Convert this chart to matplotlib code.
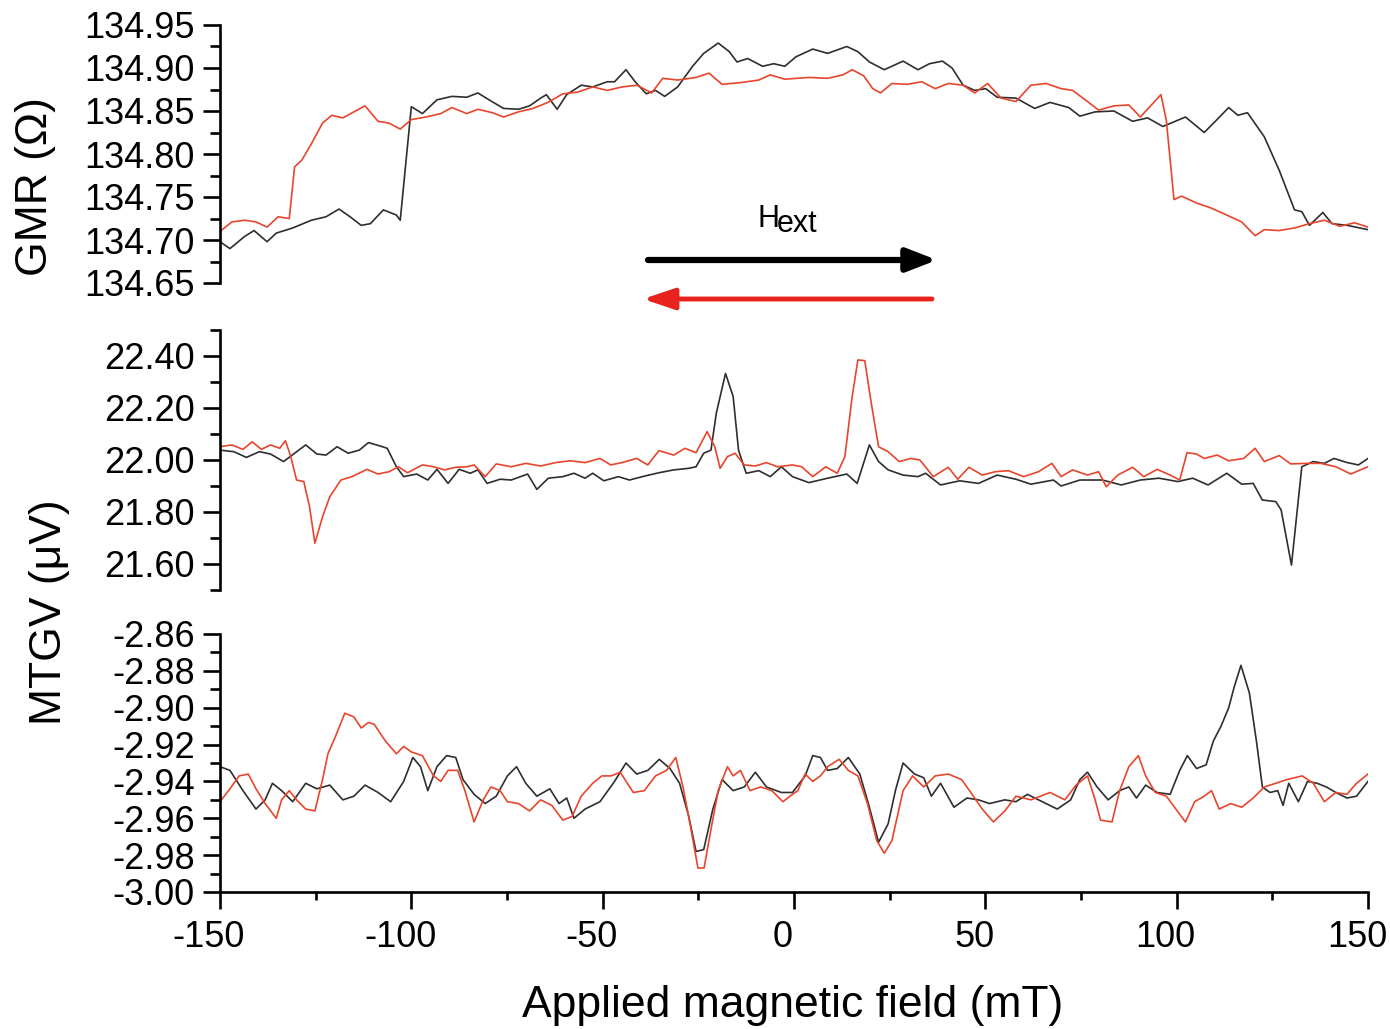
"""plot.py

GMR and MTGV versus applied field, up sweep (black) and down sweep (red),
three stacked panels sharing the field axis.
"""

import matplotlib
matplotlib.use('Agg')
import matplotlib.pyplot as plt
from matplotlib.ticker import MultipleLocator, FormatStrFormatter
from matplotlib.transforms import ScaledTranslation

plt.rcParams['font.family'] = 'Liberation Sans'
plt.rcParams['axes.unicode_minus'] = False

BLACK = '#2e2e2e'
RED = '#e8452c'

# ---- GMR (Ohm), sweep up
gmr_up_field = [
    -150.0, -147.4, -143.6, -141.1, -137.7, -135.3, -131.0, -126.1, -122.3, -118.9,
    -116.0, -113.1, -110.7, -107.3, -103.9, -102.9, -100.0, -97.1, -93.3, -89.4,
    -85.5, -82.6, -79.7, -75.9, -72.0, -69.1, -66.2, -64.7, -61.9, -59.4,
    -55.6, -52.6, -48.8, -46.9, -43.9, -41.5, -38.6, -36.2, -33.8, -30.4,
    -26.5, -23.6, -19.8, -16.9, -14.9, -12.1, -8.2, -5.3, -2.4, 0.5,
    4.9, 8.8, 13.8, 16.7, 19.7, 23.6, 28.5, 32.4, 35.4, 38.8,
    41.3, 44.2, 47.2, 50.1, 53.1, 58.0, 62.9, 66.9, 71.8, 74.7,
    78.7, 83.6, 88.5, 92.4, 96.4, 102.3, 107.2, 110.1, 113.6, 116.0,
    118.5, 122.9, 126.8, 130.8, 132.7, 134.7, 138.2, 140.6, 144.6, 150.0]
gmr_up = [
    134.698, 134.690, 134.704, 134.711, 134.698, 134.708, 134.714, 134.723, 134.727, 134.736,
    134.727, 134.717, 134.719, 134.735, 134.729, 134.723, 134.855, 134.847, 134.863, 134.867,
    134.866, 134.871, 134.863, 134.853, 134.852, 134.856, 134.865, 134.869, 134.852, 134.869,
    134.880, 134.878, 134.884, 134.884, 134.898, 134.884, 134.870, 134.874, 134.867, 134.878,
    134.902, 134.917, 134.929, 134.919, 134.907, 134.911, 134.902, 134.905, 134.902, 134.913,
    134.922, 134.917, 134.925, 134.919, 134.907, 134.898, 134.908, 134.898, 134.905, 134.908,
    134.900, 134.880, 134.874, 134.876, 134.866, 134.865, 134.853, 134.860, 134.854, 134.844,
    134.849, 134.850, 134.838, 134.842, 134.832, 134.843, 134.825, 134.838, 134.854, 134.845,
    134.848, 134.820, 134.781, 134.735, 134.733, 134.717, 134.732, 134.719, 134.717, 134.712]

# ---- GMR (Ohm), sweep down
gmr_down_field = [
    -150.0, -146.9, -143.5, -140.6, -137.7, -134.8, -131.9, -130.5, -128.6, -126.1,
    -123.2, -120.8, -117.9, -115.0, -112.1, -108.7, -105.9, -102.9, -100.0, -96.2,
    -92.3, -89.4, -85.5, -82.6, -78.8, -75.9, -72.0, -68.2, -64.3, -60.4,
    -56.5, -52.6, -48.8, -44.9, -41.0, -37.2, -34.3, -30.4, -25.6, -22.2,
    -18.8, -14.0, -9.2, -6.2, -2.4, 3.9, 8.8, 12.8, 15.2, 18.2,
    20.6, 22.6, 25.6, 29.5, 33.4, 36.9, 40.3, 44.2, 47.2, 50.6,
    54.1, 58.0, 61.9, 65.9, 69.8, 72.8, 76.7, 79.6, 83.6, 87.5,
    90.5, 93.4, 95.9, 97.3, 99.3, 101.3, 105.2, 109.1, 113.1, 117.0,
    120.5, 122.9, 126.8, 130.8, 134.7, 138.6, 142.6, 146.5, 150.0]
gmr_down = [
    134.710, 134.721, 134.723, 134.721, 134.715, 134.727, 134.725, 134.785, 134.793, 134.812,
    134.836, 134.845, 134.842, 134.849, 134.856, 134.838, 134.836, 134.829, 134.840, 134.843,
    134.847, 134.854, 134.847, 134.852, 134.848, 134.843, 134.849, 134.853, 134.860, 134.870,
    134.872, 134.878, 134.874, 134.878, 134.880, 134.871, 134.888, 134.886, 134.889, 134.894,
    134.881, 134.883, 134.886, 134.892, 134.887, 134.889, 134.888, 134.892, 134.898, 134.891,
    134.876, 134.871, 134.882, 134.881, 134.884, 134.876, 134.882, 134.880, 134.871, 134.882,
    134.865, 134.861, 134.880, 134.882, 134.876, 134.874, 134.861, 134.851, 134.856, 134.857,
    134.843, 134.857, 134.869, 134.839, 134.747, 134.751, 134.743, 134.737, 134.729, 134.721,
    134.705, 134.712, 134.711, 134.714, 134.719, 134.723, 134.716, 134.720, 134.715]

# ---- MTGV (uV), first channel, sweep up
mid_up_field = [
    -150.0, -146.4, -143.1, -139.7, -136.8, -133.4, -130.5, -127.6, -124.7, -122.3,
    -119.4, -116.5, -113.6, -111.2, -108.2, -106.3, -103.9, -102.0, -98.6, -95.7,
    -93.3, -90.4, -87.5, -84.6, -82.6, -80.2, -76.8, -73.9, -69.6, -67.2,
    -64.2, -60.4, -57.5, -54.6, -52.6, -49.7, -45.9, -43.0, -39.1, -35.3,
    -31.4, -27.5, -25.6, -23.6, -21.7, -20.3, -17.9, -15.9, -14.5, -12.5,
    -9.2, -6.2, -3.3, -0.4, 3.9, 8.8, 13.8, 16.5, 19.7, 22.1,
    24.6, 28.5, 32.4, 34.4, 38.3, 43.3, 48.2, 53.1, 58.0, 61.9,
    67.8, 69.8, 74.7, 80.6, 85.5, 90.5, 95.4, 100.3, 104.2, 108.2,
    113.1, 117.0, 120.0, 122.4, 125.9, 127.3, 130.0, 132.7, 135.7, 138.6,
    141.1, 144.6, 147.5, 150.0]
mid_up = [
    22.038, 22.032, 22.010, 22.032, 22.023, 21.994, 22.026, 22.058, 22.023, 22.019,
    22.051, 22.026, 22.038, 22.067, 22.054, 22.045, 21.974, 21.936, 21.946, 21.923,
    21.964, 21.910, 21.964, 21.949, 21.962, 21.910, 21.926, 21.923, 21.946, 21.887,
    21.930, 21.936, 21.949, 21.930, 21.949, 21.920, 21.936, 21.923, 21.938, 21.951,
    21.962, 21.968, 21.974, 22.026, 22.038, 22.180, 22.333, 22.244, 22.038, 21.949,
    21.959, 21.936, 21.974, 21.936, 21.913, 21.930, 21.946, 21.910, 22.058, 21.994,
    21.962, 21.942, 21.936, 21.949, 21.904, 21.920, 21.910, 21.942, 21.926, 21.907,
    21.923, 21.900, 21.923, 21.923, 21.904, 21.923, 21.930, 21.917, 21.930, 21.904,
    21.949, 21.907, 21.910, 21.846, 21.840, 21.808, 21.596, 21.974, 21.994, 21.987,
    22.006, 21.990, 21.981, 22.006]

# ---- MTGV (uV), first channel, sweep down
mid_down_field = [
    -150.0, -146.9, -144.0, -141.6, -139.2, -136.8, -134.4, -132.9, -131.5, -130.0,
    -128.1, -126.6, -125.2, -123.2, -121.3, -118.4, -115.5, -111.6, -108.7, -105.8,
    -103.4, -101.0, -97.1, -94.2, -91.3, -88.4, -85.5, -83.6, -80.7, -77.8,
    -73.9, -70.1, -66.2, -62.3, -58.5, -54.6, -50.7, -47.9, -45.0, -41.1,
    -38.2, -35.3, -31.4, -28.5, -25.6, -22.7, -20.7, -19.3, -17.4, -15.4,
    -13.0, -10.1, -7.2, -4.3, -0.4, 2.0, 4.9, 8.3, 11.3, 13.3,
    15.2, 16.7, 18.5, 20.2, 22.1, 24.6, 27.5, 30.5, 32.9, 36.4,
    40.3, 42.8, 45.7, 49.2, 52.6, 56.0, 60.0, 63.9, 67.4, 69.8,
    72.8, 76.7, 79.6, 81.6, 84.6, 88.5, 91.4, 94.9, 98.3, 100.8,
    102.7, 105.2, 107.2, 110.6, 113.6, 117.5, 120.5, 122.9, 126.8, 129.8,
    133.7, 137.7, 141.6, 145.5, 148.0, 150.0]
mid_down = [
    22.051, 22.058, 22.041, 22.070, 22.041, 22.058, 22.045, 22.074, 22.013, 21.923,
    21.917, 21.820, 21.680, 21.782, 21.859, 21.923, 21.936, 21.964, 21.946, 21.955,
    21.974, 21.951, 21.981, 21.974, 21.962, 21.972, 21.974, 21.981, 21.936, 21.985,
    21.974, 21.987, 21.977, 21.990, 21.997, 21.990, 22.006, 21.981, 21.990, 22.006,
    21.981, 22.036, 22.019, 22.045, 22.028, 22.109, 22.051, 21.968, 22.013, 22.026,
    21.981, 21.977, 21.990, 21.974, 21.981, 21.974, 21.936, 21.974, 21.949, 22.013,
    22.244, 22.385, 22.382, 22.218, 22.051, 22.032, 21.994, 22.006, 22.000, 21.936,
    21.972, 21.926, 21.972, 21.942, 21.955, 21.959, 21.936, 21.955, 21.987, 21.936,
    21.962, 21.942, 21.955, 21.897, 21.942, 21.972, 21.936, 21.964, 21.942, 21.923,
    22.028, 22.023, 22.006, 22.019, 21.997, 22.006, 22.045, 21.994, 22.017, 21.985,
    21.987, 21.987, 21.974, 21.946, 21.962, 21.974]

# ---- MTGV (uV), second channel, sweep up
low_up_field = [
    -150.0, -147.4, -144.0, -140.6, -138.2, -136.3, -133.9, -131.0, -127.6, -124.7,
    -121.3, -117.9, -115.0, -112.1, -108.7, -105.4, -102.0, -99.6, -97.6, -95.7,
    -93.3, -90.8, -88.4, -86.5, -83.6, -80.7, -77.8, -74.9, -72.5, -70.1,
    -67.2, -63.8, -61.4, -59.4, -57.5, -54.6, -50.7, -46.9, -43.9, -41.1,
    -38.2, -35.2, -32.4, -29.9, -27.5, -25.6, -23.6, -21.2, -18.8, -15.9,
    -13.0, -10.1, -7.2, -3.3, -0.4, 2.9, 4.9, 6.9, 8.8, 11.3,
    14.2, 17.2, 19.7, 22.1, 24.6, 26.5, 28.5, 31.5, 33.9, 35.9,
    38.3, 41.8, 45.2, 48.2, 51.1, 55.1, 58.0, 61.0, 63.9, 68.8,
    72.3, 74.7, 76.7, 79.2, 82.1, 85.1, 87.5, 89.5, 91.9, 94.9,
    98.3, 100.8, 102.8, 105.2, 107.7, 109.6, 111.6, 113.6, 115.0, 116.8,
    119.0, 120.9, 122.4, 124.4, 126.4, 127.8, 129.3, 131.8, 134.2, 136.7,
    139.1, 141.6, 144.5, 147.0, 150.0]
low_up = [
    -2.932, -2.934, -2.945, -2.955, -2.950, -2.941, -2.945, -2.951, -2.941, -2.944,
    -2.942, -2.950, -2.948, -2.942, -2.946, -2.951, -2.940, -2.927, -2.932, -2.945,
    -2.932, -2.926, -2.927, -2.939, -2.947, -2.952, -2.948, -2.937, -2.932, -2.941,
    -2.948, -2.944, -2.952, -2.949, -2.960, -2.955, -2.951, -2.940, -2.930, -2.936,
    -2.934, -2.928, -2.933, -2.941, -2.959, -2.978, -2.977, -2.955, -2.939, -2.945,
    -2.943, -2.935, -2.943, -2.946, -2.946, -2.937, -2.926, -2.927, -2.934, -2.933,
    -2.927, -2.936, -2.954, -2.973, -2.963, -2.945, -2.930, -2.936, -2.938, -2.948,
    -2.941, -2.954, -2.949, -2.950, -2.952, -2.950, -2.951, -2.947, -2.950, -2.955,
    -2.950, -2.939, -2.935, -2.943, -2.950, -2.945, -2.943, -2.949, -2.942, -2.946,
    -2.947, -2.934, -2.926, -2.933, -2.931, -2.918, -2.910, -2.900, -2.889, -2.877,
    -2.892, -2.919, -2.943, -2.946, -2.945, -2.953, -2.941, -2.951, -2.940, -2.941,
    -2.943, -2.946, -2.949, -2.948, -2.940]

# ---- MTGV (uV), second channel, sweep down
low_down_field = [
    -150.0, -147.4, -145.0, -142.6, -140.6, -138.2, -135.3, -133.9, -131.9, -130.0,
    -127.6, -125.2, -123.2, -121.8, -119.9, -117.4, -115.0, -113.1, -111.2, -109.7,
    -106.8, -103.9, -102.0, -100.0, -97.1, -94.2, -92.3, -90.4, -87.9, -86.0,
    -83.6, -81.2, -79.2, -76.8, -74.9, -72.0, -69.1, -66.2, -63.3, -60.4,
    -58.0, -55.6, -52.6, -50.2, -47.8, -45.4, -42.0, -39.1, -36.2, -33.3,
    -30.9, -29.0, -27.0, -25.1, -23.5, -21.7, -19.8, -17.4, -15.9, -14.0,
    -11.5, -8.7, -5.8, -2.9, -0.4, 1.0, 2.9, 4.9, 6.9, 8.8,
    11.8, 14.2, 16.7, 19.2, 21.6, 23.6, 25.6, 27.0, 28.5, 31.0,
    33.9, 36.9, 40.3, 43.8, 46.2, 49.2, 52.1, 55.1, 58.0, 61.9,
    66.9, 70.8, 73.7, 76.7, 78.7, 80.1, 83.1, 85.1, 87.5, 90.0,
    91.9, 94.4, 97.3, 99.8, 102.3, 104.7, 107.2, 109.1, 111.1, 114.1,
    117.0, 120.0, 122.9, 125.9, 128.8, 132.8, 135.7, 138.6, 141.6, 144.5,
    147.0, 150.0]
low_down = [
    -2.951, -2.944, -2.937, -2.936, -2.944, -2.952, -2.960, -2.950, -2.945, -2.950,
    -2.955, -2.956, -2.939, -2.925, -2.916, -2.903, -2.905, -2.911, -2.908, -2.909,
    -2.918, -2.925, -2.921, -2.924, -2.926, -2.937, -2.940, -2.934, -2.934, -2.945,
    -2.962, -2.950, -2.943, -2.945, -2.951, -2.952, -2.956, -2.950, -2.953, -2.961,
    -2.959, -2.948, -2.941, -2.937, -2.937, -2.935, -2.946, -2.945, -2.937, -2.934,
    -2.927, -2.943, -2.965, -2.987, -2.987, -2.966, -2.945, -2.932, -2.937, -2.934,
    -2.945, -2.943, -2.945, -2.951, -2.947, -2.945, -2.936, -2.940, -2.937, -2.932,
    -2.928, -2.934, -2.937, -2.952, -2.972, -2.979, -2.972, -2.959, -2.945, -2.937,
    -2.943, -2.937, -2.936, -2.939, -2.946, -2.955, -2.962, -2.956, -2.948, -2.950,
    -2.946, -2.950, -2.942, -2.937, -2.950, -2.961, -2.962, -2.945, -2.932, -2.926,
    -2.937, -2.946, -2.948, -2.955, -2.962, -2.951, -2.948, -2.945, -2.955, -2.952,
    -2.954, -2.949, -2.943, -2.941, -2.939, -2.937, -2.941, -2.951, -2.946, -2.947,
    -2.941, -2.936]

x_ticks = [-150, -100, -50, 0, 50, 100, 150]

W, H = 1390, 1029   # figure size in pixels


def px_rect(left, top, right, bottom):
    """axes rectangle from pixel edges (origin top left)"""
    return [left / W, 1 - bottom / H, (right - left) / W, (bottom - top) / H]


def style_panel(ax, ylim, major, minor, show_x=False):
    """Origin-like look: left spine only, outward ticks"""
    ax.set_xlim(-150, 150)
    ax.set_ylim(*ylim)
    for side in ['top', 'right']:
        ax.spines[side].set_visible(False)
    ax.spines['left'].set_linewidth(1.9)
    ax.yaxis.set_major_locator(MultipleLocator(major))
    ax.yaxis.set_minor_locator(MultipleLocator(minor))
    ax.yaxis.set_major_formatter(FormatStrFormatter('%.2f'))
    ax.tick_params(axis='y', which='major', length=12, width=1.9, labelsize=26, pad=6)
    ax.tick_params(axis='y', which='minor', length=7, width=1.9)
    if show_x:
        ax.spines['bottom'].set_linewidth(1.9)
        ax.set_xticks(x_ticks)
        ax.xaxis.set_minor_locator(MultipleLocator(25))
        ax.tick_params(axis='x', which='major', length=12, width=1.9, labelsize=26, pad=8)
        ax.tick_params(axis='x', which='minor', length=6, width=1.9)
        # the field labels sit a little left of their ticks in the original
        nudge = ScaledTranslation(-11 / 100, 0, ax.figure.dpi_scale_trans)
        for lab in ax.get_xticklabels():
            lab.set_transform(lab.get_transform() + nudge)
    else:
        ax.spines['bottom'].set_visible(False)
        ax.set_xticks([])
        ax.tick_params(axis='x', which='both', length=0)
    ax.patch.set_alpha(0)


fig = plt.figure(figsize=(W / 100, H / 100), dpi=100)

ax_gmr = fig.add_axes(px_rect(220, 25, 1368, 283))
ax_mid = fig.add_axes(px_rect(220, 330, 1368, 590))
ax_low = fig.add_axes(px_rect(220, 634, 1368, 892))

ax_gmr.plot(gmr_up_field, gmr_up, color=BLACK, lw=1.2)
ax_gmr.plot(gmr_down_field, gmr_down, color=RED, lw=1.2)
style_panel(ax_gmr, (134.65, 134.95), 0.05, 0.025)

ax_mid.plot(mid_up_field, mid_up, color=BLACK, lw=1.2)
ax_mid.plot(mid_down_field, mid_down, color=RED, lw=1.2)
style_panel(ax_mid, (21.5, 22.5), 0.2, 0.1)

ax_low.plot(low_up_field, low_up, color=BLACK, lw=1.2)
ax_low.plot(low_down_field, low_down, color=RED, lw=1.2)
style_panel(ax_low, (-3.00, -2.86), 0.02, 0.01, show_x=True)

# field direction arrows
fig_px = 'figure pixels'
fig.add_artist(plt.Annotation('', xy=(937, H - 260), xytext=(648, H - 260),
                              xycoords=fig_px, textcoords=fig_px,
                              arrowprops=dict(arrowstyle='-|>,head_length=0.9,head_width=0.35',
                                              color='black', lw=4.5, mutation_scale=20,
                                              shrinkA=0, shrinkB=0, capstyle='round')))
fig.add_artist(plt.Annotation('', xy=(643, H - 299), xytext=(932, H - 299),
                              xycoords=fig_px, textcoords=fig_px,
                              arrowprops=dict(arrowstyle='-|>,head_length=0.95,head_width=0.32',
                                              color='#e8221c', lw=3.5, mutation_scale=20,
                                              shrinkA=0, shrinkB=0)))
fig.text(757 / W, 1 - 227 / H, 'H', fontsize=22, ha='left', va='baseline')
fig.text(777 / W, 1 - 232 / H, 'ext', fontsize=22, ha='left', va='baseline')

# axis titles
fig.text(36 / W, 1 - 187 / H, 'GMR (Ω)', fontsize=32, rotation=90, ha='center', va='center')
fig.text(50 / W, 1 - 612 / H, 'MTGV (μV)', fontsize=32, rotation=90, ha='center', va='center')
fig.text(793 / W, 1 - 1017 / H, 'Applied magnetic field (mT)', fontsize=32,
         ha='center', va='baseline')

fig.savefig('out.png', dpi=100)
